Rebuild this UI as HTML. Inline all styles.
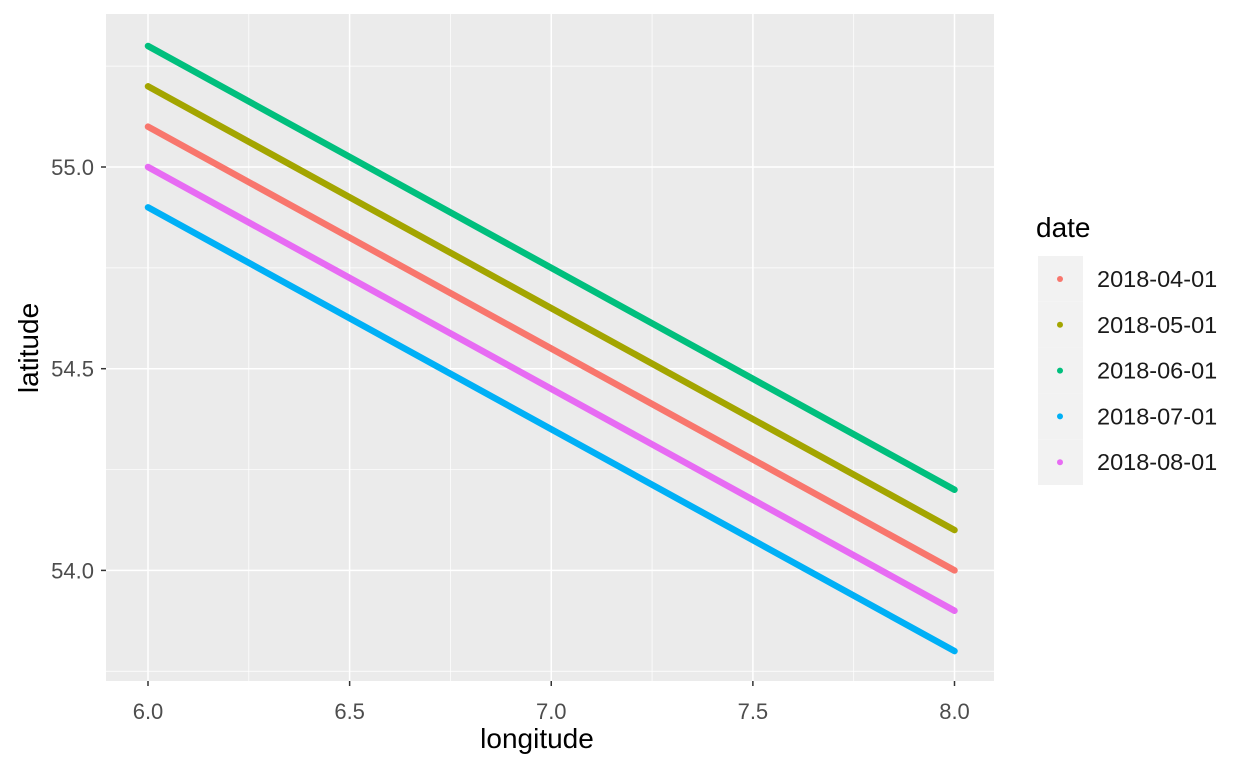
<!DOCTYPE html>
<html><head><meta charset="utf-8"><style>
body{margin:0;background:#fff;}
svg{display:block;font-family:"Liberation Sans",Arial,sans-serif;}
</style></head><body>
<svg id="chart" width="1248" height="768">
<rect x="106" y="14" width="888" height="667" fill="#ebebeb"/>
<g id="grid"></g><g id="series"></g><g id="axes"></g><g id="legend"></g>
</svg>
<script>
const categories=["2018-04-01","2018-05-01","2018-06-01","2018-07-01","2018-08-01"];
const colors=["#F8766D","#A3A500","#00BF7D","#00B0F6","#E76BF3"];
const lonValues=[6,8];
const latApr=[55.1,54.0];
const latMay=[55.2,54.1];
const latJun=[55.3,54.2];
const latJul=[54.9,53.8];
const latAug=[55.0,53.9];
const xTicks=[6.0,6.5,7.0,7.5,8.0];
const yTicks=[54.0,54.5,55.0];
const xMinor=[6.25,6.75,7.25,7.75];
const yMinor=[53.75,54.25,54.75,55.25];
const series=[latApr,latMay,latJun,latJul,latAug];
const NS="http://www.w3.org/2000/svg";
const X=v=>148+(v-6)*403.25;
const Y=v=>167-(v-55)*403.4;
function mk(t,a,p){const e=document.createElementNS(NS,t);for(const k in a)e.setAttribute(k,a[k]);p.appendChild(e);return e;}
const g=document.getElementById('grid'),s=document.getElementById('series'),ax=document.getElementById('axes'),lg=document.getElementById('legend');
xMinor.forEach(v=>{const l=mk('line',{x1:X(v),x2:X(v),y1:14,y2:681,stroke:'#fff','stroke-width':0.7},g);

});
yMinor.forEach(v=>{const l=mk('line',{x1:106,x2:994,y1:Y(v),y2:Y(v),stroke:'#fff','stroke-width':0.7},g);

});
xTicks.forEach(v=>{const l=mk('line',{x1:X(v),x2:X(v),y1:14,y2:681,stroke:'#fff','stroke-width':1.5},g);


const t=mk('line',{x1:X(v),x2:X(v),y1:681,y2:686,stroke:'#333','stroke-width':1.5},ax);


const tx=mk('text',{x:X(v),y:719,'text-anchor':'middle','font-size':22,fill:'#4d4d4d'},ax);tx.textContent=v.toFixed(1);

});
yTicks.forEach(v=>{const l=mk('line',{x1:106,x2:994,y1:Y(v),y2:Y(v),stroke:'#fff','stroke-width':1.5},g);


const t=mk('line',{x1:101,x2:106,y1:Y(v),y2:Y(v),stroke:'#333','stroke-width':1.5},ax);


const tx=mk('text',{x:94,y:Y(v)+8,'text-anchor':'end','font-size':22,fill:'#4d4d4d'},ax);tx.textContent=v.toFixed(1);

});
series.forEach((d,i)=>{const p=mk('line',{x1:X(lonValues[0]),y1:Y(d[0]),x2:X(lonValues[1]),y2:Y(d[1]),stroke:colors[i],'stroke-width':6.5,'stroke-linecap':'round'},s);


const r=mk('rect',{x:1038,y:256+i*45.8,width:45,height:45.8,fill:'#f2f2f2'},lg);


const c=mk('circle',{cx:1060,cy:279+i*45.8,r:3,fill:colors[i]},lg);


const t=mk('text',{x:1097,y:287+i*45.8,'font-size':23.5,fill:'#1a1a1a'},lg);t.textContent=categories[i];

});
const lt=mk('text',{x:1036,y:237,'font-size':28,fill:'#000'},lg);lt.textContent='date';


const xt=mk('text',{x:537,y:748,'text-anchor':'middle','font-size':28,fill:'#000'},ax);xt.textContent='longitude';


const yt=mk('text',{x:0,y:0,'text-anchor':'middle','font-size':28,fill:'#000',transform:'translate(38,348) rotate(-90)'},ax);yt.textContent='latitude';


</script>
</body></html>
